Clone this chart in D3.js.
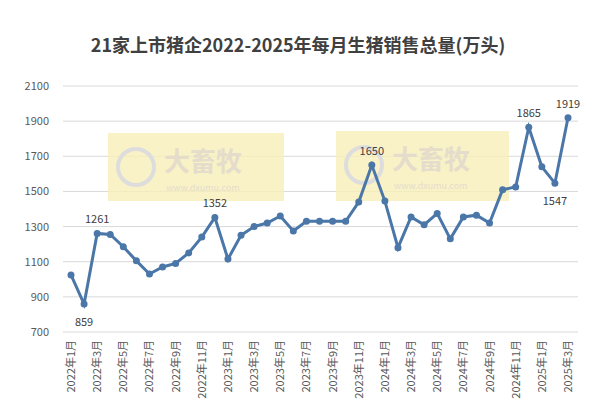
<!DOCTYPE html>
<html><head><meta charset="utf-8">
<script src="https://cdn.jsdelivr.net/npm/d3@7"></script>
<style>body{margin:0;background:#fff;font-family:"Noto Sans CJK SC","Noto Sans",sans-serif}</style>
</head><body><svg id="chart"></svg>
<script>
const months = [];
for (let y = 2022; y <= 2025; y++) for (let m = 1; m <= 12; m++) {
  if (y === 2025 && m > 3) break;
  months.push(`${y}年${m}月`);
}
const sales = [1025,859,1261,1255,1185,1105,1030,1070,1090,1150,1240,1352,
  1115,1250,1300,1320,1360,1275,1330,1330,1330,1330,1440,1650,
  1445,1180,1355,1310,1375,1230,1355,1365,1320,1510,1525,1865,
  1640,1547,1919];
const labelled = {1:"859",2:"1261",11:"1352",23:"1650",35:"1865",37:"1547",38:"1919"};
const yTicks = [700,900,1100,1300,1500,1700,1900,2100];

const W = 596, H = 406;
const svg = d3.select('#chart').attr('width', W).attr('height', H);

const x = d3.scalePoint().domain(months).range([71, 568]);
const y = d3.scaleLinear().domain([700, 2100]).range([332, 86]);

svg.append('text').attr('x', W/2).attr('y', 52).attr('text-anchor','middle')
  .style('font-size','18px').style('font-weight','bold').style('fill','#404040')
  .text('21家上市猪企2022-2025年每月生猪销售总量(万头)');

// grid + y axis
svg.selectAll('.grid').data(yTicks).join('line')
  .attr('x1', 63).attr('x2', 578).attr('y1', d => y(d)).attr('y2', d => y(d))
  .attr('stroke', '#d9d9d9');
svg.selectAll('.yl').data(yTicks).join('text')
  .attr('x', 49).attr('y', d => y(d) + 4).attr('text-anchor','end')
  .style('font-size','11px').style('fill','#595959').text(d => d);

// watermarks
[[108,133,176,68],[336,131,173,70]].forEach(([bx,by,bw,bh]) => {
  const g = svg.append('g');
  g.append('rect').attr('x',bx).attr('y',by).attr('width',bw).attr('height',bh).attr('fill','#f7efb8').attr('opacity',0.8);
  g.append('circle').attr('cx',bx+28).attr('cy',by+34).attr('r',18).attr('fill','none').attr('stroke','#ddd').attr('stroke-width',4);
  g.append('text').attr('x',bx+56).attr('y',by+38).style('font-size','26px').style('font-weight','bold').style('fill','#e5dccb').text('大畜牧');
  g.append('text').attr('x',bx+58).attr('y',by+58).style('font-size','9px').style('fill','#e5dccb').text('www.dxumu.com');
});

// x labels
svg.selectAll('.xl').data(months.filter((d,i) => i % 2 === 0)).join('text')
  .attr('transform', d => `translate(${x(d)+4},${340}) rotate(-90)`)
  .attr('text-anchor','end').style('font-size','11px').style('fill','#595959').text(d => d);

const line = d3.line().x((d,i) => x(months[i])).y(d => y(d));
svg.append('path').datum(sales).attr('d', line).attr('fill','none')
  .attr('stroke','#4a76a8').attr('stroke-width',3);
svg.selectAll('.pt').data(sales).join('circle')
  .attr('cx',(d,i) => x(months[i])).attr('cy', d => y(d)).attr('r',3.5).attr('fill','#4a76a8');

svg.selectAll('.dl').data(Object.keys(labelled)).join('text')
  .attr('x', i => x(months[i])).attr('y', i => (i == 1 || i == 37) ? y(sales[i]) + 22 : y(sales[i]) - 10)
  .attr('text-anchor','middle').style('font-size','11px').style('fill','#404040')
  .text(i => labelled[i]);
</script></body></html>
